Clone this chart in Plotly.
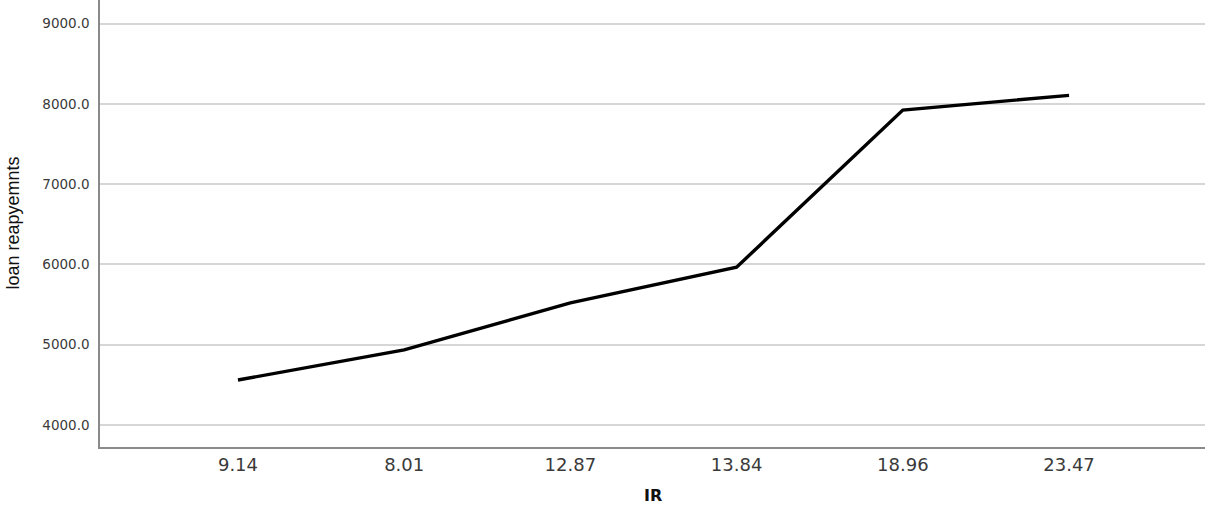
import plotly.graph_objects as go

categories = ["9.14", "8.01", "12.87", "13.84", "18.96", "23.47"]
repayments = [4560, 4935, 5520, 5965, 7922, 8105]
y_ticks = [4000, 5000, 6000, 7000, 8000, 9000]
y_tick_labels = ["4000.0", "5000.0", "6000.0", "7000.0", "8000.0", "9000.0"]

fig = go.Figure()
fig.add_trace(go.Scatter(
    x=list(range(len(categories))), y=repayments, mode="lines",
    line=dict(color="black", width=3.4), showlegend=False,
))

fig.update_layout(
    width=1208, height=506,
    margin=dict(l=100, r=3, t=0, b=59),
    paper_bgcolor="white", plot_bgcolor="white",
    font=dict(family="DejaVu Sans, sans-serif", color="#333333"),
)
fig.update_xaxes(
    tickmode="array", tickvals=list(range(len(categories))), ticktext=categories,
    range=[-0.83, 5.818], showgrid=False, zeroline=False,
    showline=True, linecolor="#8a8a8a", linewidth=1.5,
    ticks="", ticklabelstandoff=1, tickfont=dict(size=18, color="#3a3a3a",
                                                 family="DejaVu Sans, sans-serif"),
)
fig.update_yaxes(
    tickmode="array", tickvals=y_ticks, ticktext=y_tick_labels,
    range=[3726, 9293], showgrid=True, gridcolor="#d6d6d6", gridwidth=1.5,
    zeroline=False, showline=True, linecolor="#8a8a8a", linewidth=1.5,
    ticks="", ticklabelstandoff=6, tickfont=dict(size=13.5, color="#3a3a3a",
                                                 family="DejaVu Sans, sans-serif"),
)
fig.add_annotation(
    text="<b>IR</b>", xref="paper", yref="paper", x=0.5, y=0,
    xanchor="center", yanchor="middle", yshift=-48, showarrow=False,
    font=dict(size=16, color="#111111", family="DejaVu Sans, sans-serif"),
)
fig.add_annotation(
    text="loan reapyemnts", xref="paper", yref="paper", x=0, y=0.5,
    xanchor="center", yanchor="middle", xshift=-88, yshift=0, textangle=-90,
    showarrow=False,
    font=dict(size=18, color="#111111", family="Liberation Sans, Arial, sans-serif"),
)

fig.write_html("out.html", config={"displayModeBar": False},
               post_script="document.body.style.margin='0';")
